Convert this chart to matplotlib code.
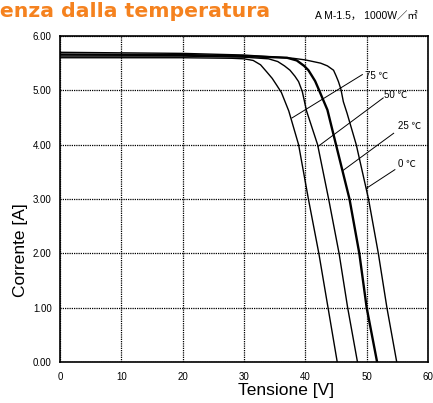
import numpy as np
import matplotlib
matplotlib.use('Agg')
import matplotlib.pyplot as plt

# I-V curves (V in volts, I in amps)
v_75 = [0, 20, 28, 30, 31.5, 32.7, 33.7, 34.6, 35.3, 36.1, 37.3, 38.9, 40.5, 42.2, 43.7, 45.2]
i_75 = [5.60, 5.60, 5.59, 5.58, 5.55, 5.47, 5.34, 5.22, 5.10, 4.96, 4.62, 4.00, 3.00, 2.00, 1.00, 0.00]

v_50 = [0, 20, 30, 34.0, 35.5, 36.6, 37.5, 38.3, 38.9, 39.5, 40.2, 42.0, 43.8, 45.5, 46.9, 48.5]
i_50 = [5.63, 5.63, 5.61, 5.58, 5.53, 5.45, 5.37, 5.26, 5.16, 4.98, 4.62, 4.00, 3.00, 2.00, 1.00, 0.00]

v_25 = [0, 20, 30, 37.0, 38.6, 39.8, 40.5, 41.0, 41.6, 42.1, 43.6, 45.0, 47.2, 48.8, 50.0, 51.7]
i_25 = [5.66, 5.65, 5.63, 5.60, 5.55, 5.45, 5.37, 5.28, 5.17, 5.04, 4.64, 4.00, 3.00, 2.00, 1.00, 0.00]

v_0 = [0, 20, 30, 38.0, 40.0, 42.5, 43.6, 44.6, 45.0, 45.4, 45.8, 46.2, 46.8, 48.3, 50.3, 51.9, 53.3, 54.9]
i_0 = [5.70, 5.68, 5.65, 5.59, 5.56, 5.50, 5.45, 5.37, 5.27, 5.16, 5.02, 4.79, 4.58, 4.00, 3.00, 2.00, 1.00, 0.00]

curves = [(v_75, i_75, 1.0), (v_50, i_50, 1.0), (v_25, i_25, 1.7), (v_0, i_0, 1.0)]

# temperature labels: text anchor and leader line (label end -> curve end)
temp_labels = ['75 \u2103', '50 \u2103', '25 \u2103', '0 \u2103']
label_xy = [(49.7, 5.27), (52.8, 4.92), (55.1, 4.34), (55.1, 3.64)]
leader_from = [(49.3, 5.29), (52.7, 4.86), (54.4, 4.21), (54.6, 3.54)]
leader_to = [(37.8, 4.49), (42.1, 3.97), (46.2, 3.53), (50.0, 3.20)]

x_ticks = [0, 10, 20, 30, 40, 50, 60]
y_ticks = [0, 1, 2, 3, 4, 5, 6]
y_ticklabels = ['0.00', '1.00', '2.00', '3.00', '4.00', '5.00', '6.00']

fam = ['Liberation Sans', 'Noto Sans CJK JP', 'DejaVu Sans']
plt.rcParams['font.family'] = fam

fig = plt.figure(figsize=(4.33, 4.03), dpi=100)
ax = fig.add_axes([60 / 433, 1 - 362 / 403, 368 / 433, 326 / 403])

for v, i, lw in curves:
    ax.plot(v, i, color='black', lw=lw, solid_joinstyle='round', zorder=3)

for txt, xy, p0, p1 in zip(temp_labels, label_xy, leader_from, leader_to):
    ax.plot([p0[0], p1[0]], [p0[1], p1[1]], color='black', lw=0.7, zorder=3)
    ax.text(xy[0], xy[1], txt, fontsize=7, ha='left', va='center', family=fam)

ax.set_xlim(0, 60)
ax.set_ylim(0, 6)
ax.set_xticks(x_ticks)
ax.set_yticks(y_ticks)
ax.set_yticklabels(y_ticklabels)
ax.tick_params(length=0, labelsize=7)
ax.tick_params(axis='y', pad=6)
ax.tick_params(axis='x', pad=7)
ax.grid(True, color='black', ls=(0, (1, 0.8)), lw=0.9)
for s in ax.spines.values():
    s.set_linewidth(1.2)

ax.set_xlabel('Tensione [V]', fontsize=12.5)
ax.set_ylabel('Corrente [A]', fontsize=12.5)
ax.xaxis.set_label_coords(0.614, -0.064)
ax.yaxis.set_label_coords(-0.088, 0.344)

fig.text(270 / 433, 1 - 17 / 403, 'Dipendenza dalla temperatura', ha='right',
         va='baseline', fontsize=14.7, fontweight='bold', color='#f5821f',
         family='DejaVu Sans')
fig.text(418 / 433, 1 - 16 / 403, 'A M-1.5\uff0c 1000W\uff0f\u33a1', ha='right',
         va='center', fontsize=7.5, family=fam)

fig.savefig('out.png', dpi=100)
